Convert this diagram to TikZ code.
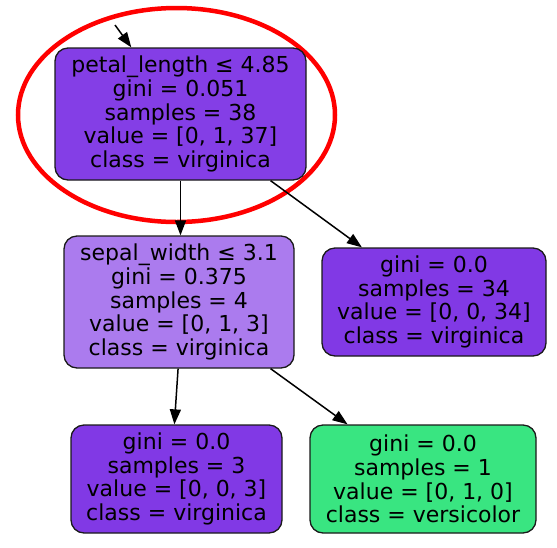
\documentclass[tikz,border=0pt]{standalone}
\usepackage{fontspec}
\setmainfont{DejaVu Sans}
\usetikzlibrary{arrows.meta,calc,shapes.geometric}
\definecolor{rootc}{HTML}{843EE6}
\definecolor{virg}{HTML}{8139E5}
\definecolor{light}{HTML}{AB7BEE}
\definecolor{vers}{HTML}{39E581}
\definecolor{edgec}{HTML}{1A1A1A}
\tikzset{
  tree/.style={draw=edgec, line width=1.3pt, rounded corners=13pt, inner sep=0pt,
    align=center, font=\fontsize{22}{23.7}\selectfont, text=black},
  conn/.style={draw=black, line width=1.5pt, -{Triangle[length=15pt,width=11pt]}},
  mark ring/.style={draw=red, line width=4.5pt}
}
\begin{document}
\begin{tikzpicture}[x=1pt,y=-1pt]
\useasboundingbox (0,0) rectangle (557,547);
\node[mark ring, ellipse, minimum width=317pt, minimum height=214pt, inner sep=0pt] (ring) at (176.5,115) {};
\node[tree, fill=rootc, minimum width=251pt, minimum height=132pt] (root) at (180.5,114)
  {petal\_length ≤ 4.85\\gini = 0.051\\samples = 38\\value = [0, 1, 37]\\class = virginica};
\node[tree, fill=light, minimum width=230pt, minimum height=132pt] (sep) at (179,302)
  {sepal\_width ≤ 3.1\\gini = 0.375\\samples = 4\\value = [0, 1, 3]\\class = virginica};
\node[tree, fill=virg, minimum width=224pt, minimum height=108pt] (r) at (434,302)
  {gini = 0.0\\samples = 34\\value = [0, 0, 34]\\class = virginica};
\node[tree, fill=virg, minimum width=211pt, minimum height=108pt] (bl) at (176.5,479)
  {gini = 0.0\\samples = 3\\value = [0, 0, 3]\\class = virginica};
\node[tree, fill=vers, minimum width=226pt, minimum height=108pt] (br) at (423,479)
  {gini = 0.0\\samples = 1\\value = [0, 1, 0]\\class = versicolor};
\coordinate (in) at (115,25);
\draw[conn] (in) -- ($(root.north west)!0.305!(root.north east)$);
\draw[conn] (root.south) -- (root.south |- sep.north);
\draw[conn] ($(root.south west)!0.857!(root.south east)$) -- ($(r.north west)!0.18!(r.north east)$);
\draw[conn] ($(sep.south west)!0.496!(sep.south east)$) -- ($(bl.north west)!0.49!(bl.north east)$);
\draw[conn] ($(sep.south west)!0.896!(sep.south east)$) -- ($(br.north west)!0.168!(br.north east)$);
\end{tikzpicture}
\end{document}
